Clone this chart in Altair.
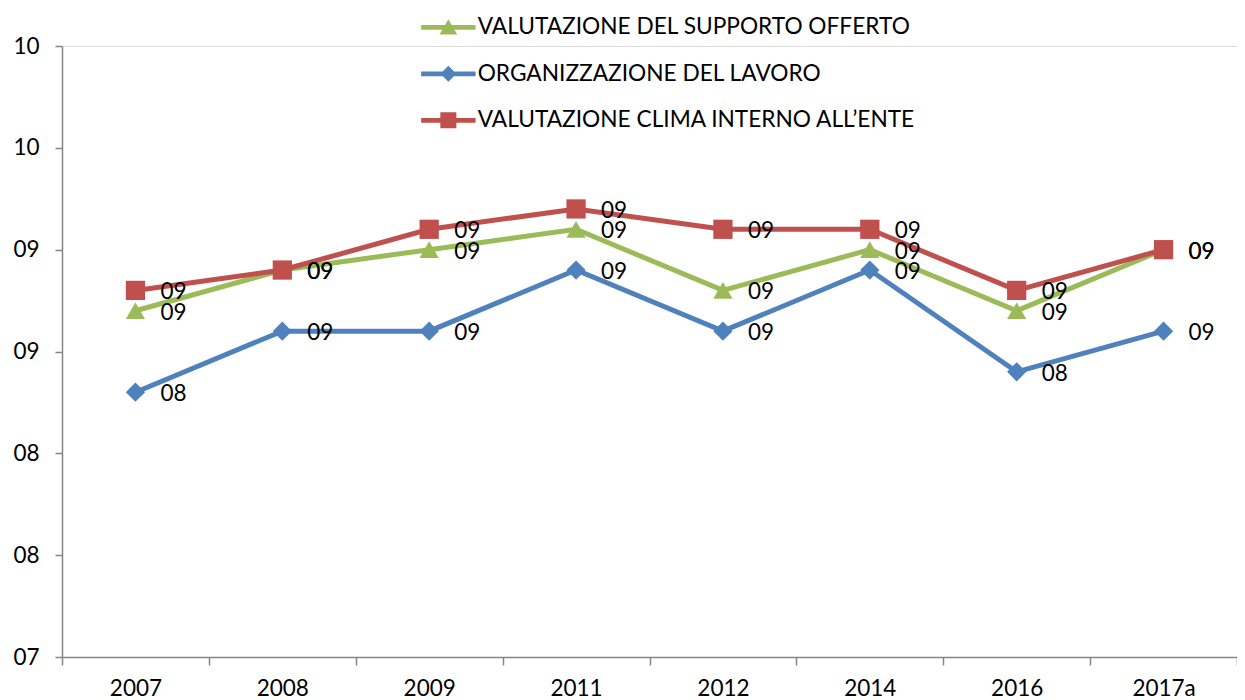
import altair as alt
import pandas as pd

years = ["2007", "2008", "2009", "2011", "2012", "2014", "2016", "2017a"]
series_names = [
    "VALUTAZIONE DEL SUPPORTO OFFERTO",
    "ORGANIZZAZIONE DEL LAVORO",
    "VALUTAZIONE CLIMA INTERNO ALL\u2019ENTE",
]
supporto = [8.7, 8.9, 9.0, 9.1, 8.8, 9.0, 8.7, 9.0]
organizzazione = [8.3, 8.6, 8.6, 8.9, 8.6, 8.9, 8.4, 8.6]
clima = [8.8, 8.9, 9.1, 9.2, 9.1, 9.1, 8.8, 9.0]
y_ticks = [7, 7.5, 8, 8.5, 9, 9.5, 10]

colors = ["#9BBB59", "#4F81BD", "#C0504D"]
marker_shapes = ["triangle-up", "diamond", "square"]
line_part = "M-3.4,-0.3H3.4V0.3H-3.4Z"
legend_shapes = [
    line_part + "M0,-1L1.1,0.9H-1.1Z",
    line_part + "M0,-1L1,0L0,1L-1,0Z",
    line_part + "M-1,-1H1V1H-1Z",
]

rows = []
for name, vals in zip(series_names, [supporto, organizzazione, clima]):
    for yr, v in zip(years, vals):
        rows.append({"anno": yr, "serie": name, "valore": v})
df = pd.DataFrame(rows)

FONT = "Lato"
GRAY = "#868686"

x = alt.X(
    "anno:N",
    sort=years,
    scale=alt.Scale(type="band", paddingInner=0, paddingOuter=0),
    axis=alt.Axis(
        title=None, labelAngle=0, tickBand="extent", grid=False,
        domainColor=GRAY, tickColor=GRAY, tickSize=8, domainWidth=1.5, tickWidth=1.5,
        labelFont=FONT, labelFontSize=22.5, labelColor="black", labelPadding=12,
    ),
)
y = alt.Y(
    "valore:Q",
    scale=alt.Scale(domain=[7, 10], nice=False, zero=False),
    axis=alt.Axis(
        title=None, values=y_ticks, format="02.0f", grid=False,
        domainColor=GRAY, tickColor=GRAY, tickSize=7, domainWidth=1.5, tickWidth=1.5,
        labelFont=FONT, labelFontSize=22.5, labelColor="black", labelPadding=16,
    ),
)
color_nolegend = alt.Color("serie:N", scale=alt.Scale(domain=series_names, range=colors), legend=None)

base = alt.Chart(df).encode(x=x, y=y)

lines = base.mark_line(strokeWidth=5).encode(color=color_nolegend)
points = base.mark_point(filled=True, opacity=1, size=370).encode(
    color=color_nolegend,
    shape=alt.Shape("serie:N", scale=alt.Scale(domain=series_names, range=marker_shapes), legend=None),
)
labels = base.mark_text(
    align="left", baseline="middle", dx=25, dy=2, font=FONT, fontSize=22.5, color="black"
).encode(text=alt.Text("valore:Q", format="02.0f"))

leg = dict(
    orient="none", legendX=375, legendY=-30, title=None, direction="vertical",
    labelFont=FONT, labelFontSize=22.7, labelColor="black", labelLimit=0,
    symbolSize=256, symbolStrokeWidth=0, symbolOpacity=1, labelOffset=18,
    rowPadding=22.5, padding=0,
)
legend_layer = alt.Chart(df).mark_point(filled=True, opacity=1).encode(
    x=x, y=y,
    color=alt.Color("serie:N", scale=alt.Scale(domain=series_names, range=colors), legend=alt.Legend(**leg)),
    shape=alt.Shape("serie:N", scale=alt.Scale(domain=series_names, range=legend_shapes), legend=alt.Legend(**leg)),
).transform_filter("false")

chart = (
    alt.layer(lines, points, labels, legend_layer)
    .resolve_scale(color="independent", shape="independent")
    .properties(
        width=1175, height=611,
        padding={"left": 54, "top": 38, "right": 0, "bottom": 45},
        autosize=alt.AutoSizeParams(type="none"),
    )
    .configure_view(stroke=None)
    .configure(font=FONT)
)

chart.save("out.html", embed_options={"renderer": "svg", "actions": False})
